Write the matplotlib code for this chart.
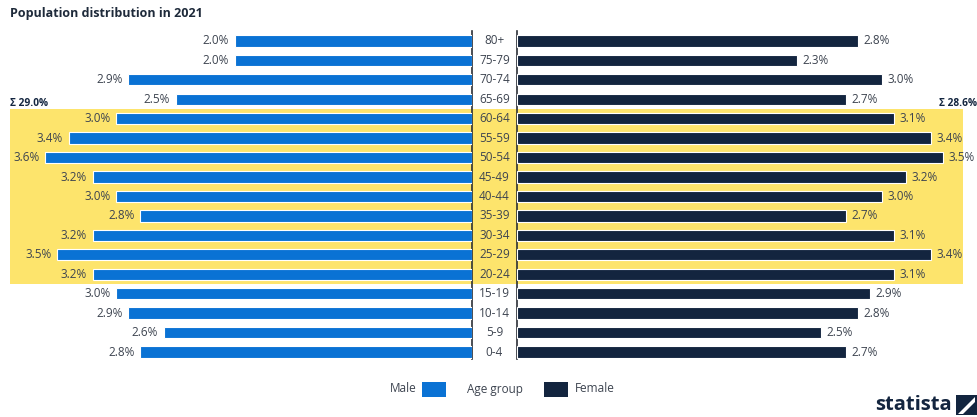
import numpy as np
import matplotlib
matplotlib.use('Agg')
import matplotlib.pyplot as plt
import matplotlib.transforms as mtransforms
from matplotlib.patches import Rectangle, Polygon

plt.rcParams['font.family'] = ['Open Sans', 'DejaVu Sans']

# data, listed bottom (0-4) to top (80+)
age_groups = ['0-4', '5-9', '10-14', '15-19', '20-24', '25-29', '30-34', '35-39',
              '40-44', '45-49', '50-54', '55-59', '60-64', '65-69', '70-74',
              '75-79', '80+']
male = [2.8, 2.6, 2.9, 3.0, 3.2, 3.5, 3.2, 2.8, 3.0, 3.2, 3.6, 3.4, 3.0, 2.5,
        2.9, 2.0, 2.0]
female = [2.7, 2.5, 2.8, 2.9, 3.1, 3.4, 3.1, 2.7, 3.0, 3.2, 3.5, 3.4, 3.1, 2.7,
          3.0, 2.3, 2.8]
band_first, band_last = '20-24', '60-64'
male_sum = '29.0%'
female_sum = '28.6%'

C_MALE = '#0a72d4'
C_FEMALE = '#13253f'
C_BAND = '#fde46c'
C_TEXT = '#3d4450'
C_LINE = '#2b2f36'

W, H = 977, 417
fig = plt.figure(figsize=(W / 100, H / 100), dpi=100)


def fx(px):
    return px / W


def fy(py):
    return 1 - py / H


top_px, bot_px = 31, 359
ax_m = fig.add_axes([0, fy(bot_px), fx(472), (bot_px - top_px) / H])
ax_f = fig.add_axes([fx(517), fy(bot_px), fx(W - 517), (bot_px - top_px) / H])

y = np.arange(len(age_groups))
ylim = (-0.36, 16.51)

ax_m.barh(y, male, height=0.58, color=C_MALE, edgecolor='white', linewidth=0.8, zorder=3)
ax_f.barh(y, female, height=0.58, color=C_FEMALE, edgecolor='white', linewidth=0.8, zorder=3)
ax_m.set_xlim(3.98, 0)
ax_f.set_xlim(0, 3.78)

for ax in (ax_m, ax_f):
    ax.set_ylim(*ylim)
    ax.set_facecolor('none')
    ax.set_xticks([])
    ax.set_yticks([])
    for s in ax.spines.values():
        s.set_visible(False)
ax_m.spines['right'].set_visible(True)
ax_m.spines['right'].set_color(C_LINE)
ax_m.spines['right'].set_linewidth(1.2)
ax_f.spines['left'].set_visible(True)
ax_f.spines['left'].set_color(C_LINE)
ax_f.spines['left'].set_linewidth(1.2)

for yi, v in zip(y, male):
    ax_m.annotate(f'{v:.1f}%', (v, yi), xytext=(-4, 0), textcoords='offset points',
                  ha='right', va='center', fontsize=8.5, color=C_TEXT)
for yi, v in zip(y, female):
    ax_f.annotate(f'{v:.1f}%', (v, yi), xytext=(4, 0), textcoords='offset points',
                  ha='left', va='center', fontsize=8.5, color=C_TEXT)

# age group labels centred between the two axes
tr = mtransforms.blended_transform_factory(fig.transFigure, ax_m.transData)
for yi, lab in zip(y, age_groups):
    fig.text(fx(494.5), yi, lab, transform=tr, ha='center', va='center',
             fontsize=8.5, color=C_TEXT)

# highlighted band
i0, i1 = age_groups.index(band_first), age_groups.index(band_last)
band = Rectangle((fx(10), i0 - 0.49), fx(963) - fx(10), (i1 - i0) + 0.98,
                 transform=tr, facecolor=C_BAND, edgecolor='none', zorder=-5)
fig.patches.append(band)
fig.text(fx(10), i1 + 0.76, '\u03a3 ' + male_sum, transform=tr, ha='left', va='center',
         fontsize=7.3, fontweight='bold', color=C_FEMALE)
fig.text(fx(977), i1 + 0.76, '\u03a3 ' + female_sum, transform=tr, ha='right', va='center',
         fontsize=7.3, fontweight='bold', color=C_FEMALE)

# title
fig.text(fx(10), fy(14), 'Population distribution in 2021', ha='left', va='center',
         fontsize=9, fontweight='bold', color='#1e2a3a')

# legend
ly = fy(389)
fig.text(fx(417), ly, 'Male', ha='right', va='center', fontsize=8.5, color=C_TEXT)
fig.patches.append(Rectangle((fx(422), fy(397)), fx(24), 15 / H, transform=fig.transFigure,
                             facecolor=C_MALE, edgecolor='none'))
fig.text(fx(495), ly, 'Age group', ha='center', va='center', fontsize=8.5, color=C_TEXT)
fig.patches.append(Rectangle((fx(544), fy(397)), fx(24), 15 / H, transform=fig.transFigure,
                             facecolor=C_FEMALE, edgecolor='none'))
fig.text(fx(575), ly, 'Female', ha='left', va='center', fontsize=8.5, color=C_TEXT)

# statista mark
fig.text(fx(952), fy(405), 'statista', ha='right', va='center', fontsize=14.5,
         fontweight='bold', color=C_FEMALE)
fig.patches.append(Polygon([[fx(956), fy(415)], [fx(977), fy(415)], [fx(977), fy(395)],
                            [fx(956), fy(395)]], closed=True, transform=fig.transFigure,
                           facecolor=C_FEMALE, edgecolor='none'))
fig.patches.append(Polygon([[fx(958), fy(414)], [fx(975), fy(397)], [fx(975), fy(402)],
                            [fx(963), fy(414)]], closed=True, transform=fig.transFigure,
                           facecolor='white', edgecolor='none'))

fig.savefig('out.png', dpi=100)
